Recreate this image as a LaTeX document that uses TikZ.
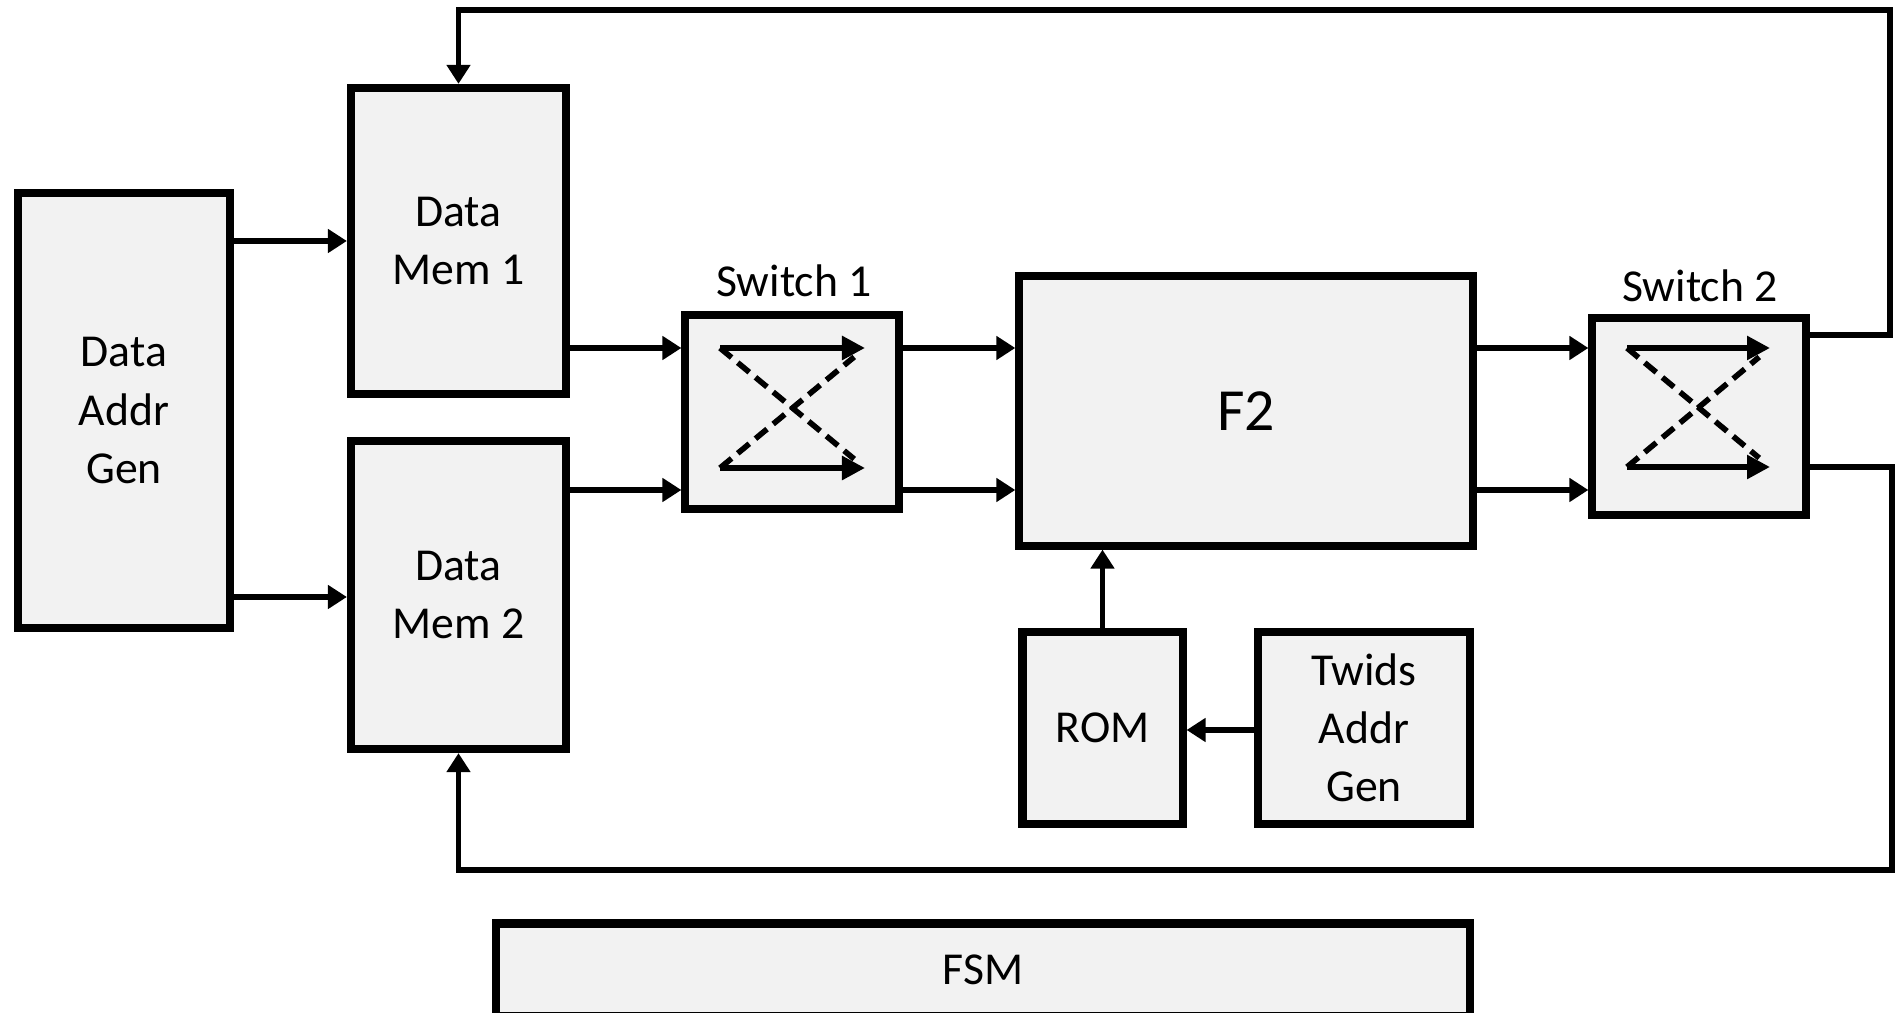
\documentclass[tikz,border=0pt]{standalone}
\usepackage{fontspec}
\setmainfont{Carlito}
\usetikzlibrary{arrows.meta}
\definecolor{boxfill}{RGB}{242,242,242}
\begin{document}
\begin{tikzpicture}[x=0.01cm,y=-0.01cm,
 blk/.style={draw=black, fill=boxfill, line width=2.3pt, inner sep=0pt, align=center, font=\fontsize{13}{16.5}\selectfont},
 arr/.style={line width=1.6pt, -{Triangle[length=0.19cm,width=0.23cm]}},
 swarr/.style={line width=1.6pt, -{Triangle[length=0.23cm,width=0.23cm]}},
 swdash/.style={line width=1.6pt, dash pattern=on 0.15cm off 0.08cm, shorten >=0.14cm},
 lbl/.style={font=\fontsize{13}{16.5}\selectfont, anchor=base, inner sep=0pt}]
\useasboundingbox (0,0) rectangle (1896,1013);
\clip (0,0) rectangle (1896,1013);

\node[blk, minimum width=2.12cm, minimum height=4.35cm] (dag) at (124,410.5) {Data\\Addr\\Gen};
\node[blk, minimum width=2.15cm, minimum height=3.06cm] (mem1) at (458.5,241) {Data\\Mem 1};
\node[blk, minimum width=2.15cm, minimum height=3.08cm] (mem2) at (458.5,595) {Data\\Mem 2};
\node[blk, minimum width=2.13cm, minimum height=1.93cm] (sw1) at (792,412) {};
\node[blk, minimum width=4.53cm, minimum height=2.69cm, font=\fontsize{17}{20}\selectfont] (f2) at (1246,411) {F2};
\node[blk, minimum width=2.13cm, minimum height=1.96cm] (sw2) at (1699,416.5) {};
\node[blk, minimum width=1.60cm, minimum height=1.91cm] (rom) at (1102.5,728) {ROM};
\node[blk, minimum width=2.11cm, minimum height=1.91cm] (tw) at (1364,728) {Twids\\Addr\\Gen};
\node[blk, minimum width=9.73cm, minimum height=0.93cm] (fsm) at (983,970) {FSM};

\node[lbl] (sw1l) at (794,297) {Switch 1};
\node[lbl] (sw2l) at (1700,302) {Switch 2};

\coordinate (ya) at (0,241);
\coordinate (yb) at (0,597);
\coordinate (yc) at (0,348);
\coordinate (yd) at (0,490);
\coordinate (ye) at (0,730);
\coordinate (ytop) at (0,10);
\coordinate (ybot) at (0,870);
\coordinate (ys2a) at (0,335);
\coordinate (ys2b) at (0,467);
\coordinate (xr1) at (1890,0);
\coordinate (xr2) at (1892,0);

\draw[arr] (dag.east |- ya) -- (mem1.west |- ya);
\draw[arr] (dag.east |- yb) -- (mem2.west |- yb);
\draw[arr] (mem1.east |- yc) -- (sw1.west |- yc);
\draw[arr] (mem2.east |- yd) -- (sw1.west |- yd);
\draw[arr] (sw1.east |- yc) -- (f2.west |- yc);
\draw[arr] (sw1.east |- yd) -- (f2.west |- yd);
\draw[arr] (f2.east |- yc) -- (sw2.west |- yc);
\draw[arr] (f2.east |- yd) -- (sw2.west |- yd);
\draw[arr] (rom.north) -- (f2.south -| rom.north);
\draw[arr] (tw.west |- ye) -- (rom.east |- ye);

\draw[arr] (sw2.east |- ys2a) -| (xr1 |- ytop) -| (mem1.north);
\draw[arr] (sw2.east |- ys2b) -| (xr2 |- ybot) -| (mem2.south);

% switch 1 internals
\coordinate (s1a) at (720,348);
\coordinate (s1b) at (865,348);
\coordinate (s1c) at (720,468);
\coordinate (s1d) at (865,468);
\draw[swdash] (s1a) -- (s1d);
\draw[swdash] (s1c) -- (s1b);
\draw[swarr] (s1a) -- (s1b);
\draw[swarr] (s1c) -- (s1d);

% switch 2 internals
\coordinate (s2a) at (1627,348);
\coordinate (s2b) at (1770,348);
\coordinate (s2c) at (1627,467);
\coordinate (s2d) at (1770,467);
\draw[swdash] (s2a) -- (s2d);
\draw[swdash] (s2c) -- (s2b);
\draw[swarr] (s2a) -- (s2b);
\draw[swarr] (s2c) -- (s2d);
\end{tikzpicture}
\end{document}
